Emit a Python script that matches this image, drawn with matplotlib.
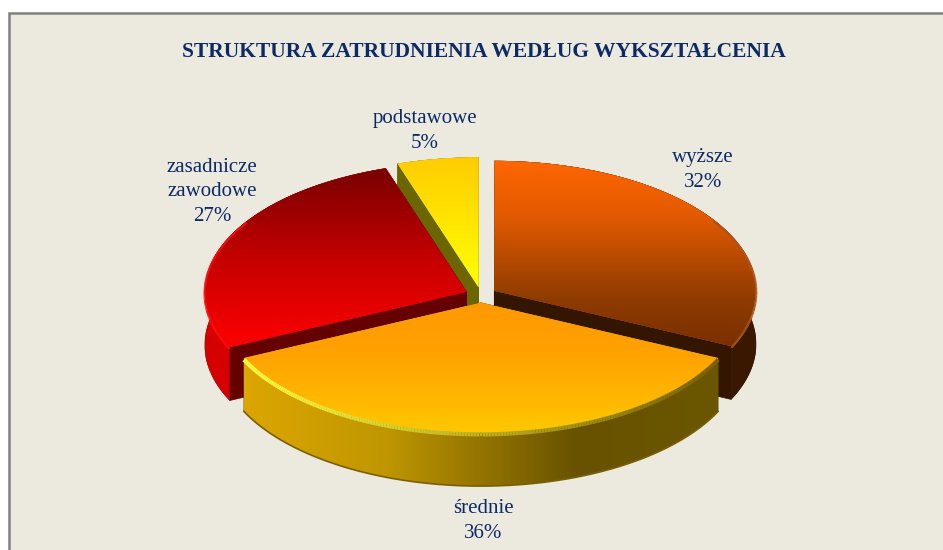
import matplotlib
matplotlib.use('Agg')
import matplotlib.pyplot as plt
import numpy as np
from matplotlib.collections import LineCollection
from matplotlib.colors import LinearSegmentedColormap
from matplotlib.patches import Polygon, Rectangle

title = 'STRUKTURA ZATRUDNIENIA WEDŁUG WYKSZTAŁCENIA'
categories = ['wyższe', 'średnie', 'zasadnicze\nzawodowe', 'podstawowe']
values = [32, 36, 27, 5]

W, H = 943, 550
RX, RY = 262, 130    # pixels per data unit, flattens the pie into an ellipse
CX, CY = 481, 295
DEPTH = 0.41
NAVY = '#0B2A66'
PANEL = '#ECE9DF'

tops = [
    [(0, '#FF6600'), (0.3, '#E25A00'), (0.75, '#8E3B00'), (1, '#7A3000')],
    [(0, '#FF9900'), (0.4, '#FFA200'), (1, '#FFC800')],
    [(0, '#780000'), (0.5, '#C40000'), (1, '#FF0000')],
    [(0, '#FFCC00'), (0.8, '#FFF500'), (1, '#FFFF00')],
]
walls = [
    ['#3A1800', '#3A1800'],
    [(0, '#DDA600'), (0.3, '#BF9600'), (0.7, '#685200'), (1, '#6B5600')],
    ['#D80000', '#D00000'],
    ['#6B6600', '#6B6600'],
]
radial_walls = ['#341500', '#6B5600', '#640000', '#6B6600']
rims = [
    ('#5A2600', '#B05A20', 1.5),
    ('#FFFF40', '#7A6000', 3.0),
    ('#FF1010', '#E00000', 1.5),
    ('#FFCC00', '#FFCC00', 0.5),
]
lab_pos = [(703, 170), (483, 521), (212, 192), (425, 131)]


def px(x, y):
    return x / W, 1 - y / H


def arc(w, n=200):
    t = np.radians(np.linspace(w.theta1, w.theta2, n))
    return w.center[0] + w.r * np.cos(t), w.center[1] + w.r * np.sin(t)


def gradient(patch, stops, box, vertical=True, z=1):
    cm = LinearSegmentedColormap.from_list('g', stops)
    g = np.linspace(0, 1, 256)
    g = g.reshape(-1, 1) if vertical else g.reshape(1, -1)
    im = ax.imshow(g, cmap=cm, vmin=0, vmax=1, aspect='auto', extent=box,
                   interpolation='bilinear', zorder=z)
    im.set_clip_path(patch)


fig = plt.figure(figsize=(W / 100, H / 100), dpi=100, facecolor='white')
fig.add_artist(Rectangle(px(8.5, 560), 960 / W, 547.5 / H, transform=fig.transFigure,
                         facecolor=PANEL, edgecolor='#808080', linewidth=1.8, zorder=-1))

ax = fig.add_axes([0, 0, 1, 1])
wedges, _ = ax.pie(values, startangle=90, counterclock=False, explode=[0.06] * 4,
                   colors=['#B04800', '#FFB000', '#C00000', '#FFE000'])
ax.set_aspect('auto')
ax.set_xlim(-CX / RX, (W - CX) / RX)
ax.set_ylim((CY - H) / RY, CY / RY)
ax.set_autoscale_on(False)
ax.patch.set_visible(False)

# back to front, the middle slice covers the others
order = [3, 2, 0, 1]
for layer, i in enumerate(order):
    w = wedges[i]
    z = 10 + layer * 5
    xs, ys = arc(w)
    cx, cy = w.center

    # cut faces
    for end in (0, -1):
        quad = [(cx, cy), (xs[end], ys[end]), (xs[end], ys[end] - DEPTH), (cx, cy - DEPTH)]
        ax.add_patch(Polygon(quad, facecolor=radial_walls[i], edgecolor=radial_walls[i],
                             linewidth=0.5, zorder=z))

    # outer wall
    pts = np.r_[np.c_[xs, ys], np.c_[xs, ys - DEPTH][::-1]]
    wall = Polygon(pts, facecolor=radial_walls[i], edgecolor='none', zorder=z + 1)
    ax.add_patch(wall)
    gradient(wall, walls[i], (xs.min(), xs.max(), ys.min() - DEPTH, ys.max()),
             vertical=False, z=z + 1)

    # top face
    w.set_zorder(z + 2)
    w.set_edgecolor('none')
    box = (min(xs.min(), cx), max(xs.max(), cx), min(ys.min(), cy), max(ys.max(), cy))
    gradient(w, tops[i], box, z=z + 2)

    # bevel along the front part of the rim only
    c0, c1, lw = rims[i]
    cm = LinearSegmentedColormap.from_list('r', [c0, c1])
    front = ys < cy + 0.55
    if front.sum() > 2:
        fx_, fy_ = xs[front], ys[front] - 0.012
        seg = np.c_[fx_, fy_]
        lc = LineCollection(np.stack([seg[:-1], seg[1:]], axis=1), linewidths=lw, zorder=z + 3,
                            colors=cm((fx_[:-1] - xs.min()) / (xs.max() - xs.min())))
        ax.add_collection(lc)

    # dark foot of the front wall
    if i == 1:
        ax.plot(xs, ys - DEPTH, color='#7A6000', lw=1.2, zorder=z + 3)

for cat, val, (x, y) in zip(categories, values, lab_pos):
    fx, fy = px(x, y)
    fig.text(fx, fy, f'{cat}\n{val}%', ha='center', va='center', color=NAVY,
             family='Liberation Serif', fontsize=15, linespacing=1.36)

fx, fy = px(484, 52)
fig.text(fx, fy, title, ha='center', va='center', color='#0B2A66',
         family='Liberation Serif', fontsize=15.45, fontweight='bold')

fig.savefig('out.png', dpi=100)
